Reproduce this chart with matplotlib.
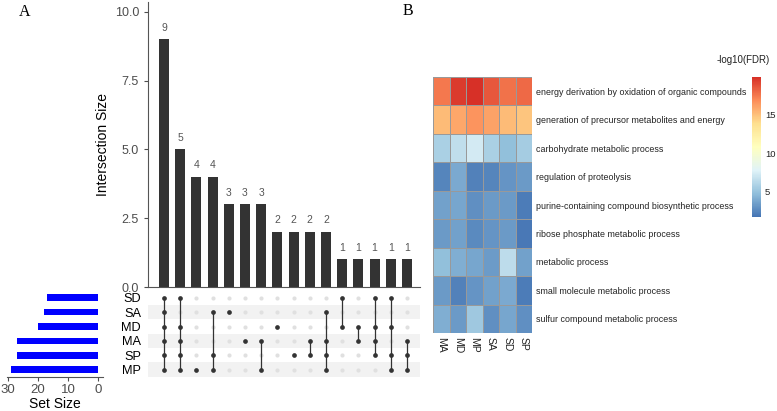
import numpy as np
import matplotlib
matplotlib.use("Agg")
import matplotlib.pyplot as plt
from matplotlib.colors import LinearSegmentedColormap

plt.rcParams["font.family"] = ["Liberation Sans", "DejaVu Sans"]

# ---- panel A data (UpSet) ----
sets = ["SD", "SA", "MD", "MA", "SP", "MP"]
set_sizes = [17, 18, 20, 27, 27, 29]
inter_sizes = [9, 5, 4, 4, 3, 3, 3, 2, 2, 2, 2, 1, 1, 1, 1, 1]
inter_members = [
    ["SD", "SA", "MD", "MA", "SP", "MP"],
    ["SD", "MD", "MA", "SP", "MP"],
    ["MP"],
    ["SA", "SP", "MP"],
    ["SA"],
    ["MA"],
    ["MA", "MP"],
    ["MD"],
    ["SP"],
    ["MA", "SP"],
    ["SA", "MA", "SP", "MP"],
    ["SD", "MD"],
    ["MD", "MA"],
    ["SD", "MD", "MA", "SP"],
    ["SD", "MD", "SP", "MP"],
    ["MA", "SP", "MP"],
]

# ---- panel B data (heatmap of -log10(FDR)) ----
terms = [
    "energy derivation by oxidation of organic compounds",
    "generation of precursor metabolites and energy",
    "carbohydrate metabolic process",
    "regulation of proteolysis",
    "purine-containing compound biosynthetic process",
    "ribose phosphate metabolic process",
    "metabolic process",
    "small molecule metabolic process",
    "sulfur compound metabolic process",
]
samples = ["MA", "MD", "MP", "SA", "SD", "SP"]
fdr_vals = [
    [17.5, 19.5, 19.9, 18.6, 17.7, 18.0],
    [15.2, 15.9, 16.6, 16.1, 15.2, 14.8],
    [5.7, 6.6, 7.3, 5.7, 4.8, 5.5],
    [2.4, 3.9, 2.2, 2.4, 3.0, 3.2],
    [3.5, 3.7, 2.8, 3.2, 3.2, 2.0],
    [3.2, 3.5, 2.6, 3.0, 3.2, 1.9],
    [4.8, 4.1, 3.7, 3.3, 6.4, 3.5],
    [3.2, 2.2, 3.0, 3.5, 3.9, 2.0],
    [4.1, 3.2, 5.3, 2.8, 3.7, 2.8],
]

W, H = 777, 411
fig = plt.figure(figsize=(W / 100, H / 100), dpi=100)


def px_axes(x0, y0, x1, y1):
    return fig.add_axes([x0 / W, 1 - y1 / H, (x1 - x0) / W, (y1 - y0) / H])


dark = "#333333"
ncol = len(inter_sizes)
col_px = 16.2
xl = -(164 - 148) / col_px
xr = xl + (420 - 148) / col_px

# intersection bars
ax_bar = px_axes(148, 2, 420, 287)
xs = np.arange(ncol)
ax_bar.bar(xs, inter_sizes, width=0.62, color=dark)
for x, v in zip(xs, inter_sizes):
    ax_bar.text(x, v + 0.25, str(v), ha="center", va="bottom", fontsize=7.5, color="#555555")
ax_bar.set_xlim(xl, xr)
ax_bar.set_ylim(0, 10.36)
ax_bar.set_yticks([0, 2.5, 5, 7.5, 10])
ax_bar.set_yticklabels(["0.0", "2.5", "5.0", "7.5", "10.0"])
ax_bar.tick_params(axis="y", labelsize=9, colors="#4d4d4d", length=3, width=0.8)
ax_bar.set_xticks([])
for s in ["top", "right"]:
    ax_bar.spines[s].set_visible(False)
ax_bar.spines["left"].set_color("#555555")
ax_bar.spines["bottom"].set_color("#555555")
ax_bar.set_ylabel("Intersection Size", fontsize=10, color="black", labelpad=3)

# matrix
ax_mat = px_axes(148, 290.5, 420, 376.9)
ax_mat.set_xlim(xl, xr)
ax_mat.set_ylim(len(sets) - 0.5, -0.5)
for i in range(len(sets)):
    if i % 2 == 1:
        ax_mat.axhspan(i - 0.5, i + 0.5, color="#f2f2f2", zorder=0, lw=0)
for j, mem in enumerate(inter_members):
    rows = [sets.index(m) for m in mem]
    inactive = [i for i in range(len(sets)) if i not in rows]
    ax_mat.plot([j] * len(inactive), inactive, "o", color="#e0e0e0", ms=3, mew=0, zorder=1)
    if len(rows) > 1:
        ax_mat.plot([j, j], [min(rows), max(rows)], color=dark, lw=0.9, zorder=2)
    ax_mat.plot([j] * len(rows), rows, "o", color=dark, ms=3.4, mew=0, zorder=3)
ax_mat.set_xticks([])
ax_mat.set_yticks(range(len(sets)))
ax_mat.set_yticklabels(sets, fontsize=9.2)
ax_mat.tick_params(axis="y", length=0, pad=5)
for s in ax_mat.spines.values():
    s.set_visible(False)

# set sizes
ax_set = px_axes(7, 290.5, 103, 376.9)
ax_set.barh(range(len(sets)), set_sizes, height=0.45, color="#0000ff")
ax_set.set_ylim(len(sets) - 0.5, -0.5)
ax_set.set_xlim(30.33, -1.67)
ax_set.set_xticks([30, 20, 10, 0])
ax_set.tick_params(axis="x", labelsize=9.5, colors="#4d4d4d", length=3, width=0.8, pad=2)
ax_set.set_yticks([])
for s in ["top", "right", "left"]:
    ax_set.spines[s].set_visible(False)
ax_set.spines["bottom"].set_color("#555555")
ax_set.set_xlabel("Set Size", fontsize=10, labelpad=1)

# ---- panel B heatmap ----
cmap = LinearSegmentedColormap.from_list(
    "pheat", ["#4575B4", "#91BFDB", "#E0F3F8", "#FFFFBF", "#FEE090", "#FC8D59", "#D73027"]
)
vmin, vmax = 1.7, 19.9
ax_hm = px_axes(433, 77, 532, 333)
mesh = ax_hm.pcolormesh(np.array(fdr_vals), cmap=cmap, vmin=vmin, vmax=vmax,
                        edgecolors="#999999", linewidth=0.5)
ax_hm.set_xlim(0, len(samples))
ax_hm.set_ylim(len(terms), 0)
for s in ax_hm.spines.values():
    s.set_visible(False)
ax_hm.set_xticks(np.arange(len(samples)) + 0.5)
ax_hm.set_xticklabels(samples, rotation=270, fontsize=7.5, color="#222222")
ax_hm.yaxis.tick_right()
ax_hm.set_yticks(np.arange(len(terms)) + 0.5)
ax_hm.set_yticklabels(terms, fontsize=6.4, color="#222222")
ax_hm.tick_params(length=0, pad=3)

cax = px_axes(752, 77, 761, 217)
cb = fig.colorbar(mesh, cax=cax, ticks=[5, 10, 15])
cb.outline.set_visible(False)
cax.tick_params(length=0, labelsize=6.8, colors="#222222", pad=3)
fig.text(743 / W, 1 - 60 / H, "-log10(FDR)", fontsize=7, ha="center", va="center", color="#222222")

# panel letters
fig.text(25 / W, 1 - 12 / H, "A", fontsize=11.5, family="Liberation Serif", ha="center", va="center")
fig.text(408 / W, 1 - 11 / H, "B", fontsize=11.5, family="Liberation Serif", ha="center", va="center")

fig.savefig("out.png", dpi=100)
